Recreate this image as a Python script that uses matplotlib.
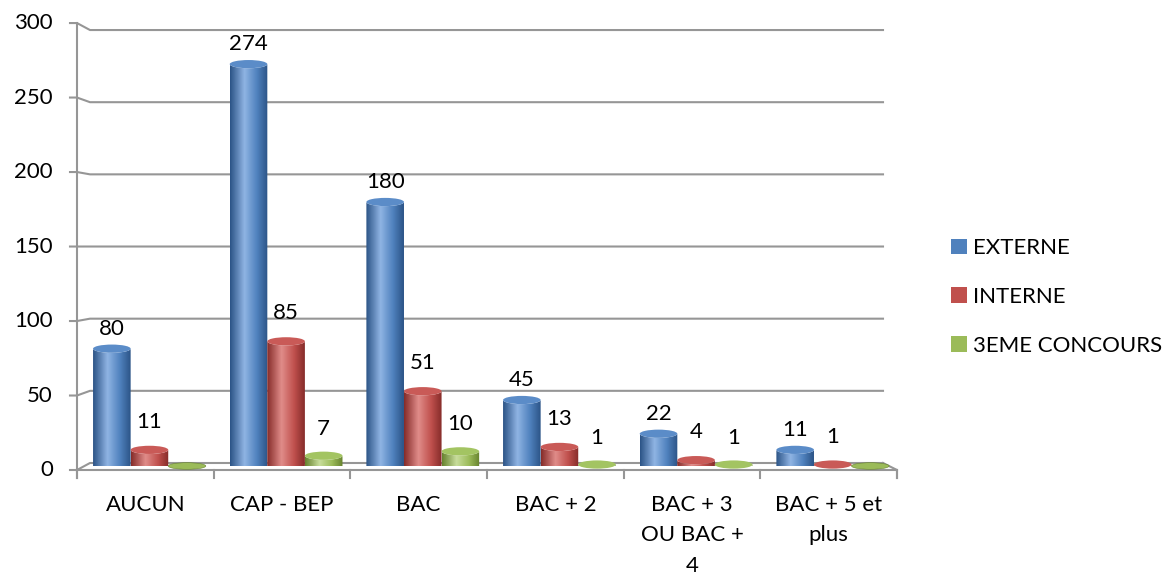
import numpy as np
import matplotlib
matplotlib.use('Agg')
import matplotlib.pyplot as plt
from matplotlib.path import Path
from matplotlib.patches import PathPatch, Ellipse, Patch
from matplotlib.colors import LinearSegmentedColormap

plt.rcParams['font.family'] = ['Lato', 'DejaVu Sans']

categories = ['AUCUN', 'CAP - BEP', 'BAC', 'BAC + 2', 'BAC + 3\nOU BAC +\n4', 'BAC + 5 et\nplus']
series_names = ['EXTERNE', 'INTERNE', '3EME CONCOURS']
externe = [80, 274, 180, 45, 22, 11]
interne = [11, 85, 51, 13, 4, 1]
concours3 = [0, 7, 10, 1, 1, 0]
y_ticks = [0, 50, 100, 150, 200, 250, 300]

# dark edge, highlight, body, top
palette = [
    ('#2c5487', '#8fb4e3', '#4f81bd', '#5b8cc8'),
    ('#862c2a', '#e08c89', '#c0504d', '#c95a57'),
    ('#67832f', '#c8dd9c', '#9bbb59', '#a3c462'),
]
label_offset = [10, 18, 17]
FS = 16

W, H = 1168, 576
fig = plt.figure(figsize=(W / 100, H / 100), dpi=100)
ax = fig.add_axes([77 / W, 110 / H, 820 / W, 440 / H])
ax.set_xlim(-0.5, 5.5)
ax.set_ylim(0, 300)
ax.axis('off')

px_x = 820 / 6.0     # pixels per x unit
px_y = 440 / 300.0   # pixels per y unit


def front_y(v):
    return -2.73 + v * 1.0158


def back_y(v):
    return 2.05 + v * 0.984


grid_c = '#969696'
dx = 13 / px_x
x_left, x_right = -0.5, 5.5
x_back_right = x_right - 14 / px_x

# back wall gridlines with little perspective kink on the left
for v in y_ticks:
    fy, by = front_y(v), back_y(v)
    ax.plot([x_left - 7 / px_x, x_left, x_left + dx, x_back_right], [fy, fy, by, by],
            color=grid_c, lw=1.5, clip_on=False, zorder=1)
    ax.text(x_left - 24 / px_x, fy, str(v), ha='right', va='center', fontsize=FS,
            color='black')

# floor right side
ax.plot([x_back_right, x_right, x_right], [back_y(0), front_y(0), front_y(0) - 8 / px_y],
        color=grid_c, lw=1.5, clip_on=False, zorder=1)
# front axes
ax.plot([x_left, x_left], [front_y(0) - 8 / px_y, front_y(300)], color=grid_c, lw=1.5,
        clip_on=False, zorder=1)
ax.plot([x_left, x_right], [front_y(0), front_y(0)], color=grid_c, lw=1.5, clip_on=False,
        zorder=1)
for i in range(len(categories) + 1):
    xb = i - 0.5
    ax.plot([xb, xb], [front_y(0), front_y(0) - 8 / px_y], color=grid_c, lw=1.5,
            clip_on=False, zorder=1)

for i, c in enumerate(categories):
    ax.text(i, -19.5, c, ha='center', va='top', fontsize=FS, linespacing=1.68)


def cylinder(xc, w, h, cols, z):
    dark, light, mid, top = cols
    ry = 2.8
    t1 = np.linspace(np.pi, 2 * np.pi, 40)
    t2 = np.linspace(2 * np.pi, np.pi, 40)
    xs = np.concatenate([xc + w / 2 * np.cos(t1), xc + w / 2 * np.cos(t2)])
    ys = np.concatenate([ry * np.sin(t1), h + ry * np.sin(t2)])
    verts = np.column_stack([xs, ys])
    if h > 0:
        body = PathPatch(Path(np.vstack([verts, verts[:1]]), closed=True),
                         facecolor='none', edgecolor='none', zorder=z)
        ax.add_patch(body)
        cmap = LinearSegmentedColormap.from_list(
            'c', [(0, dark), (0.38, light), (0.72, mid), (1, dark)])
        grad = np.linspace(0, 1, 64).reshape(1, -1)
        im = ax.imshow(grad, cmap=cmap, extent=[xc - w / 2, xc + w / 2, -ry, h + ry],
                       aspect='auto', zorder=z, clip_on=True, interpolation='bilinear')
        im.set_clip_path(body)
        cap = Ellipse((xc, h), w, 2 * ry, facecolor=top, edgecolor='none', zorder=z + 0.1,
                      clip_on=False)
    else:
        cap = Ellipse((xc, h), w, 1.6 * ry, facecolor=mid, edgecolor=dark, lw=0.4,
                      zorder=z + 0.1, clip_on=False)
    ax.add_patch(cap)


bw = 0.275
all_series = [externe, interne, concours3]
for s, vals in enumerate(all_series):
    for i, v in enumerate(vals):
        xc = i + 0.03 + (s - 1) * bw
        cylinder(xc, bw, v, palette[s], 3 + s)
        if v > 0:
            ax.annotate(str(v), (xc, v), xytext=(0, label_offset[s]),
                        textcoords='offset pixels', ha='center', va='bottom',
                        fontsize=FS, zorder=10)

ax.set_xlim(-0.5, 5.5)
ax.set_ylim(0, 300)

handles = [Patch(facecolor=palette[k][2], edgecolor='none') for k in range(3)]
fig.legend(handles, series_names, loc='center left', bbox_to_anchor=(951 / W, 1 - 297 / H),
           frameon=False, fontsize=FS, handlelength=0.7, handleheight=0.7,
           handletextpad=0.3, labelspacing=1.3, borderpad=0, borderaxespad=0)

fig.savefig('out.png', dpi=100)
